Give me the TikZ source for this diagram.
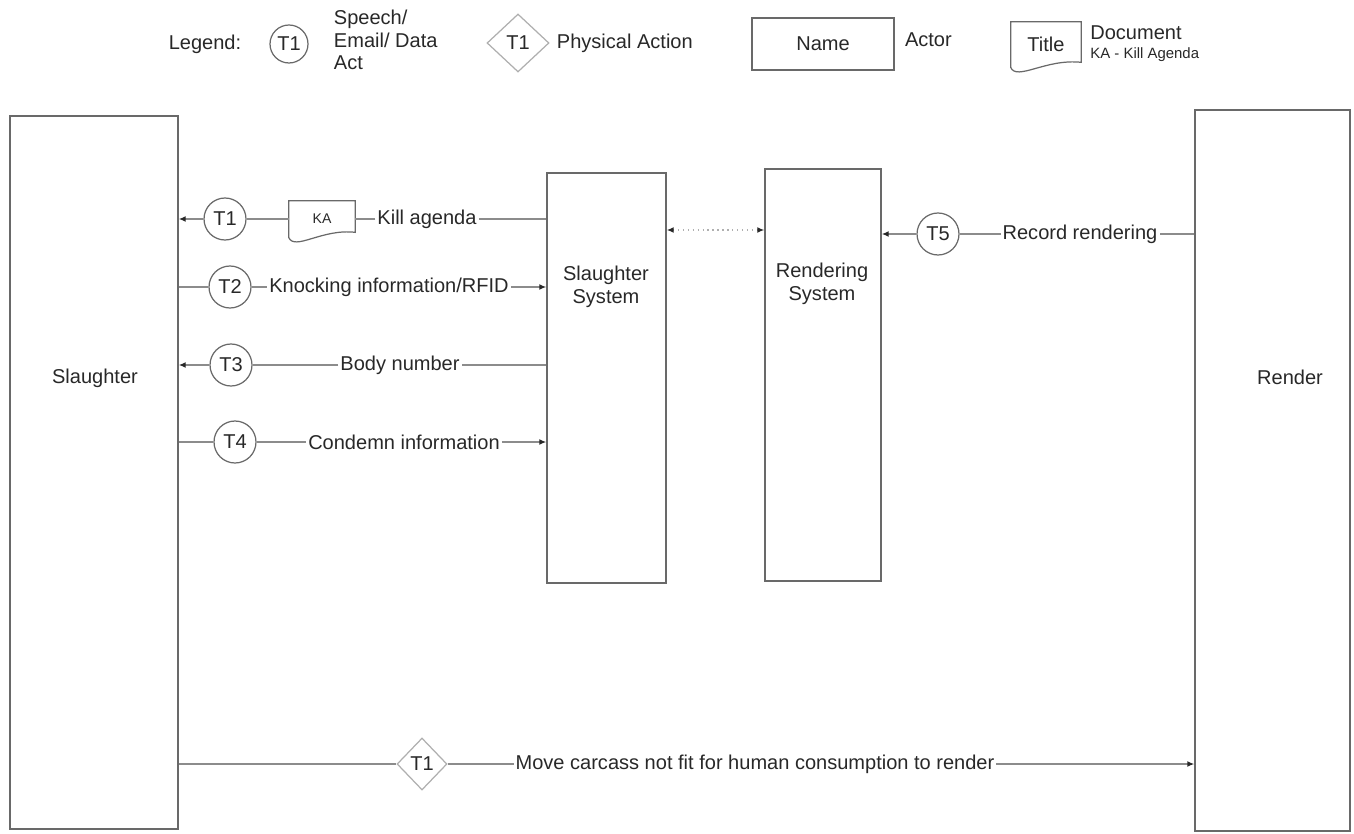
\documentclass[tikz,border=0pt]{standalone}
\usepackage{fontspec}
\setmainfont{Liberation Sans}
\usetikzlibrary{arrows.meta, shapes.geometric, positioning, calc}
\definecolor{BoxGray}{RGB}{105,105,105}
\definecolor{LineGray}{RGB}{140,140,140}
\definecolor{PaleGray}{RGB}{175,175,175}
\definecolor{InkGray}{RGB}{40,40,40}

\tikzset{
  every node/.style={font=\fontsize{11.4}{13}\selectfont, text=InkGray},
  actor/.style={draw=BoxGray, line width=0.8pt, inner sep=0pt},
  act/.style={circle, draw=BoxGray, line width=0.7pt, minimum size=0.84cm, inner sep=0pt},
  physact/.style={diamond, draw=PaleGray, line width=0.7pt, inner sep=0pt},
  docnode/.style={inner sep=0pt},
  msg/.style={inner sep=1pt},
  flow/.style={draw=LineGray, line width=0.8pt, -{Latex[length=4pt,width=3.4pt,color=InkGray]}},
  sync/.style={draw=PaleGray, line width=0.8pt, dotted,
    {Latex[length=4pt,width=3.4pt,color=InkGray]}-{Latex[length=4pt,width=3.4pt,color=InkGray]}},
}

% outline of a document with a wavy bottom edge
\newcommand{\docoutline}[1]{%
  \draw[BoxGray, line width=0.7pt] (#1.north west) -- (#1.north east)
    -- ($(#1.south east)+(0,-5)$)
    .. controls ($(#1.south)+(0,-9)$) and ($(#1.south west)+(6,14)$) .. (#1.south west) -- cycle;}

\begin{document}
\begin{tikzpicture}[x=0.02cm, y=-0.02cm]
  \useasboundingbox (0,0) rectangle (1354,834);

  % legend
  \node (legend) at (205,44) {Legend:};
  \node[act, minimum size=0.76cm] (lgAct) at (289,44) {T1};
  \node[right=0.5cm of lgAct, align=left, inner sep=0pt, yshift=0.08cm] (lgActTxt) {Speech/\\Email/ Data\\Act};
  \node[physact, minimum width=1.24cm, minimum height=1.16cm] (lgPhys) at (518,43) {T1};
  \node[right=0.14cm of lgPhys, inner sep=0pt] (lgPhysTxt) {Physical Action};
  \node[actor, minimum width=2.84cm, minimum height=1.04cm] (lgActor) at (823,44) {Name};
  \node[right=0.2cm of lgActor, inner sep=0pt, yshift=0.08cm] (lgActorTxt) {Actor};
  \node[docnode, minimum width=1.4cm, minimum height=0.9cm] (lgDoc) at (1046,44.5) {Title};
  \docoutline{lgDoc}
  \node[anchor=west, inner sep=0pt] (lgDocTxt) at (1090,33) {Document};
  \node[anchor=west, inner sep=0pt, font=\fontsize{8.5}{10}\selectfont] (lgDocSub) at (1090,55) {KA - Kill Agenda};

  % actors and systems
  \node[actor, minimum width=3.36cm, minimum height=14.26cm] (sl) at (94,472.5) {};
  \node (slLbl) at (95,378) {Slaughter};
  \node[actor, minimum width=3.1cm, minimum height=14.42cm] (rd) at (1272.5,470.5) {};
  \node (rdLbl) at (1290,377) {Render};
  \node[actor, minimum width=2.38cm, minimum height=8.2cm] (ss) at (606.5,378) {};
  \node[align=center] (ssLbl) at (606,287) {Slaughter\\System};
  \node[actor, minimum width=2.32cm, minimum height=8.24cm] (rs) at (823,375) {};
  \node[align=center] (rsLbl) at (822,284) {Rendering\\System};

  % T1 kill agenda
  \node[act] (t1) at (225,219) {T1};
  \node[docnode, minimum width=1.32cm, minimum height=0.72cm, font=\fontsize{8}{9}\selectfont] (ka) at (322,219) {KA};
  \docoutline{ka}
  \node[msg] (killLbl) at (427,219) {Kill agenda};
  \draw[flow] (ss.west |- killLbl) -- (killLbl) -- (ka) -- (t1) -- (sl.east |- t1);

  % T2 knocking
  \node[act] (t2) at (230,287) {T2};
  \node[msg] (knockLbl) at (389,287) {Knocking information/RFID};
  \draw[flow] (sl.east |- t2) -- (t2) -- (knockLbl) -- (ss.west |- t2);

  % T3 body number
  \node[act] (t3) at (231,365) {T3};
  \node[msg] (bodyLbl) at (400,365) {Body number};
  \draw[flow] (ss.west |- t3) -- (bodyLbl) -- (t3) -- (sl.east |- t3);

  % T4 condemn
  \node[act] (t4) at (235,442) {T4};
  \node[msg] (condLbl) at (404,442) {Condemn information};
  \draw[flow] (sl.east |- t4) -- (t4) -- (condLbl) -- (ss.west |- t4);

  % T5 record rendering
  \node[act] (t5) at (938,234) {T5};
  \node[msg] (recLbl) at (1080,234) {Record rendering};
  \draw[flow] (rd.west |- t5) -- (recLbl) -- (t5) -- (rs.east |- t5);

  % systems link
  \coordinate (sync) at (715,230);
  \draw[sync] (ss.east |- sync) -- (rs.west |- sync);

  % physical action
  \node[physact, minimum width=1cm, minimum height=1.04cm] (pa) at (422,764) {T1};
  \node[msg] (moveLbl) at (755,764) {Move carcass not fit for human consumption to render};
  \draw[flow] (sl.east |- pa) -- (pa) -- (moveLbl) -- (rd.west |- pa);
\end{tikzpicture}
\end{document}
